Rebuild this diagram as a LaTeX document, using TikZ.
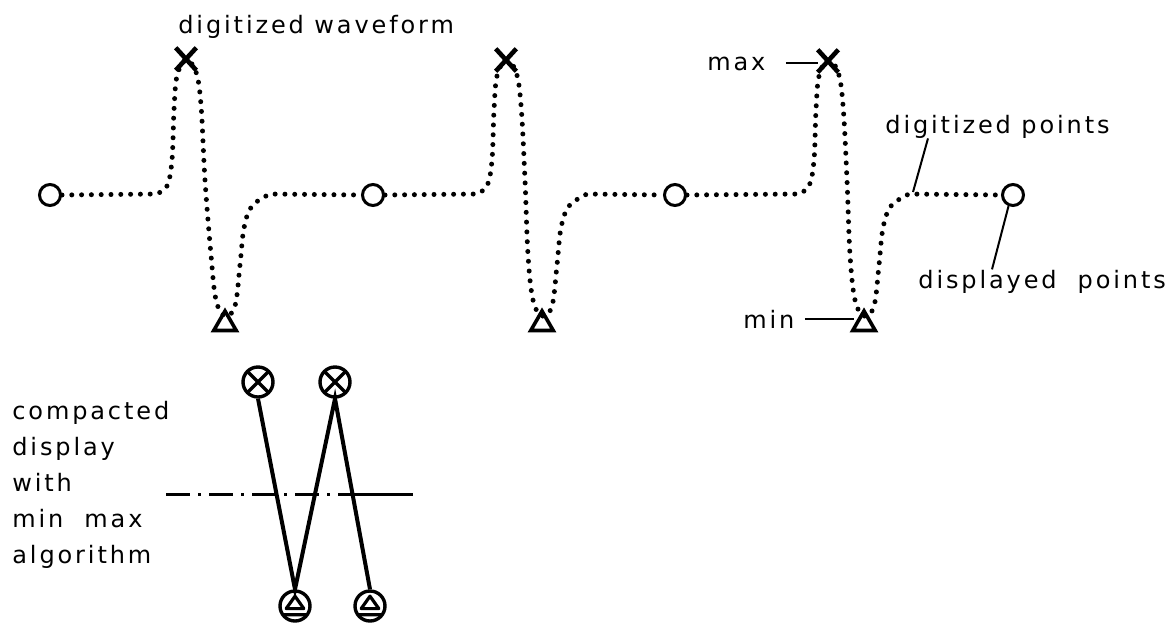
\documentclass[tikz,border=0pt]{standalone}
\usepackage{fontspec}
\setmainfont{DejaVu Sans}[LetterSpace=12]
\usetikzlibrary{shapes.geometric, shapes.misc}

\tikzset{
  shown/.style={circle, draw, line width=1.5pt, minimum size=10.5pt, inner sep=0pt},
  maxpt/.style={cross out, draw, line width=2.3pt, minimum width=8pt, minimum height=9pt, inner sep=0pt},
  minpt/.style={regular polygon, regular polygon sides=3, draw, line width=1.8pt, minimum size=13pt, inner sep=0pt},
  wave/.style={line width=2.5pt, line cap=round, dash pattern=on 0pt off 4.9pt},
  leader/.style={line width=1pt},
  lbl/.style={inner sep=0pt, anchor=base west},
  maxshown/.style={circle, draw, line width=1.7pt, minimum size=15pt, inner sep=0pt,
    path picture={\draw[line width=1.7pt]
      (path picture bounding box.north west) -- (path picture bounding box.south east)
      (path picture bounding box.north east) -- (path picture bounding box.south west);}},
  minshown/.style={circle, draw, line width=1.7pt, minimum size=15pt, inner sep=0pt,
    path picture={\draw[line width=1.6pt, line join=round]
      ([shift={(0pt,4.9pt)}]path picture bounding box.center)
      -- ([shift={(4.4pt,-1.3pt)}]path picture bounding box.center)
      -- ([shift={(-4.4pt,-1.3pt)}]path picture bounding box.center) -- cycle
      ([shift={(-9pt,-4.4pt)}]path picture bounding box.center)
      -- ([shift={(9pt,-4.4pt)}]path picture bounding box.center);}},
  joint/.style={line width=2pt}
}

\begin{document}
\begin{tikzpicture}[x=0.5pt, y=-0.5pt, font=\fontsize{12}{18}\selectfont]
  \useasboundingbox (0,0) rectangle (1171,622);

  % displayed points, max and min of each stretch
  \node[shown] (d1) at (50,195) {};
  \node[shown] (d2) at (373,195) {};
  \node[shown] (d3) at (675,195) {};
  \node[shown] (d4) at (1013,195) {};
  \node[maxpt] (x1) at (186,59) {};
  \node[maxpt] (x2) at (506,60) {};
  \node[maxpt] (x3) at (828,61) {};
  \node[minpt] (m1) at (225,324) {};
  \node[minpt] (m2) at (542,324) {};
  \node[minpt] (m3) at (864,324) {};

  % the digitized waveform between displayed points
  \foreach \p/\m/\a/\b in {186/225/d1/d2, 506/542/d2/d3, 828/864/d3/d4}
    \draw[wave] (\a.east) -- plot[smooth, tension=0.6] coordinates {(\p-30,194) (\p-19,186)
      (\p-14,160) (\p-12,110) (\p-9,76) (\p,60) (\p+10,72) (\p+15,105) (\p+19,180)
      (\m-14,255) (\m-9,300) (\m,316) (\m+10,306) (\m+15,265) (\m+19,228) (\m+27,206)
      (\m+45,194)} -- (\b.west);

  \node[lbl] (wavelbl) at (178,33) {digitized\ waveform};
  \node[lbl] (maxlbl) at (707,70) {max};
  \node[lbl] (minlbl) at (743,328) {min};
  \node[lbl] (dplbl) at (885,133) {digitized points};
  \node[lbl] (displbl) at (918,288) {displayed\ \ points};
  \coordinate (dp) at (913,192);

  \draw[leader] ([xshift=10pt]maxlbl.east) -- (maxlbl.east -| x3.west);
  \draw[leader] ([xshift=5pt]minlbl.east) -- (minlbl.east -| m3.west);
  \draw[leader] ([xshift=21.5pt]dplbl.south west) -- (dp);
  \draw[leader] (d4.-112) -- ([xshift=37pt]displbl.north west);

  % compacted display
  \node[maxshown] (ca) at (258,382) {};
  \node[maxshown] (cb) at (335,382) {};
  \node[minshown] (ta) at (295,606) {};
  \node[minshown] (tb) at (370,606) {};
  \draw[joint] (ca.south) -- (ta.north) -- (cb.south) -- (tb.north);
  \draw[line width=1.5pt, dash pattern=on 12pt off 4pt on 1.5pt off 4pt] (166,494) -- (357,494);
  \draw[line width=1.5pt] (357,494) -- (413,494);

  \node[inner sep=0pt, anchor=north west, align=left] (caption) at (12,401)
    {compacted\\display\\with\\min\ \ max\\algorithm};
\end{tikzpicture}
\end{document}
